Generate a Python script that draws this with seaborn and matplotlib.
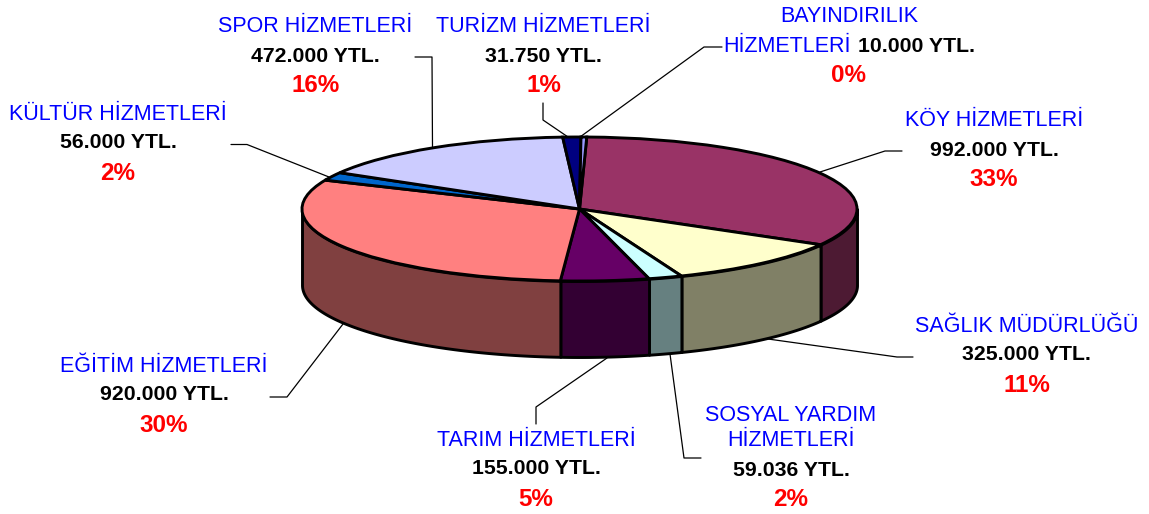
import numpy as np
import seaborn as sns
from matplotlib import pyplot as plt
from matplotlib import transforms as mtransforms

# data, clockwise from the top of the pie
names = ["KÖY HİZMETLERİ", "SAĞLIK MÜDÜRLÜĞÜ", "SOSYAL YARDIM\nHİZMETLERİ", "TARIM HİZMETLERİ",
         "EĞİTİM HİZMETLERİ", "KÜLTÜR HİZMETLERİ", "SPOR HİZMETLERİ", "TURİZM HİZMETLERİ"]
values = [992000, 325000, 59036, 155000, 920000, 56000, 472000, 31750, 10000]
amounts = ["992.000 YTL.", "325.000 YTL.", "59.036 YTL.", "155.000 YTL.",
           "920.000 YTL.", "56.000 YTL.", "472.000 YTL.", "31.750 YTL."]
percents = ["33%", "11%", "2%", "5%", "30%", "2%", "16%", "1%", "0%"]
colours = ["#993366", "#FFFFCC", "#CCFFFF", "#660066", "#FF8080", "#0066CC", "#CCCCFF", "#000080", "#9999FF"]

W, H = 1149, 514
# pie geometry in pixels
cx, cy, rx, ry, depth = 579.5, 209, 277.5, 72, 76
turn = 1.5  # degrees clockwise from straight up

# label centres in pixels: name, amount, percent (x, y)
name_pos = [(994, 121), (1027, 326), (791, 428), (536, 441), (164, 367), (118, 115), (315, 27), (543, 27)]
amount_pos = [(994, 150), (1026, 355), (791, 470), (536, 469), (164, 395), (118, 143), (315, 56), (543, 56)]
percent_pos = [(994, 179), (1027, 385), (791, 499), (536, 500), (164, 425), (118, 173), (316, 86), (544, 86), (849, 76)]

# leader lines in pixels
leaders = [
    [(902, 151), (885, 151), (820, 172)],
    [(913, 357), (897, 357), (768, 339)],
    [(701, 458), (684, 458), (670, 354)],
    [(536, 424), (536, 407), (607, 358)],
    [(270, 397), (287, 397), (343, 324)],
    [(231, 144.5), (247, 144.5), (329, 177)],
    [(415, 57), (432, 57), (432.5, 147)],
    [(543, 103), (543, 120), (568, 137)],
    [(722, 47), (704, 47), (580, 137)],
]

sns.set_theme(style="white")
plt.rcParams['font.family'] = ['Liberation Sans', 'DejaVu Sans']

fig = plt.figure(figsize=(W / 100, H / 100), dpi=100)
ax = fig.add_axes([0, 0, 1, 1])

edge = 2.1
palette = sns.color_palette(colours)

# top of the pie, squashed afterwards by giving up the equal aspect
ax.pie(values, colors=palette, startangle=90 - turn, counterclock=False,
       wedgeprops={"edgecolor": "black", "linewidth": edge, "zorder": 3})
ax.set_aspect("auto")
ax.set_xlim(-cx / rx, (W - cx) / rx)
ax.set_ylim((cy - H) / ry, cy / ry)
ax.set_axis_off()

# side wall, only the front half of each slice is visible
edges = np.radians(turn) + 2 * np.pi * np.concatenate([[0], np.cumsum(values)]) / np.sum(values)
for i in range(len(values)):
    start = max(edges[i], np.pi / 2)
    stop = min(edges[i + 1], 3 * np.pi / 2)
    if stop <= start:
        continue
    t = np.linspace(start, stop, 80)
    ax.fill_between(np.sin(t), np.cos(t), np.cos(t) - depth / ry,
                    color=np.array(palette[i]) * 0.5, edgecolor="black", linewidth=edge, zorder=2)

# everything else is placed in pixels
px = mtransforms.Affine2D().scale(1 / W, -1 / H).translate(0, 1) + fig.transFigure

for line in leaders:
    xs, ys = zip(*line)
    ax.plot(xs, ys, color="black", linewidth=0.9, transform=px, zorder=1, clip_on=False)

blue, red = "#0000FF", "#FF0000"
name_size, amount_size, pct_size = 15.5, 15.3, 17.4

for i in range(len(names)):
    ax.text(*name_pos[i], names[i], color=blue, fontsize=name_size, ha="center", va="center",
            transform=px, linespacing=1.24)
    ax.text(*amount_pos[i], amounts[i], color="black", fontsize=amount_size, fontweight="bold",
            ha="center", va="center", transform=px)
for i in range(len(percents)):
    ax.text(*percent_pos[i], percents[i], color=red, fontsize=pct_size, fontweight="bold",
            ha="center", va="center", transform=px)

# the last label runs name and amount on one line
ax.text(849, 16, "BAYINDIRILIK", color=blue, fontsize=name_size, ha="center", va="center", transform=px)
ax.text(787, 46, "HİZMETLERİ", color=blue, fontsize=name_size, ha="center", va="center", transform=px)
ax.text(916, 46, "10.000 YTL.", color="black", fontsize=amount_size, fontweight="bold",
        ha="center", va="center", transform=px)

fig.savefig("out.png", dpi=100, facecolor="white")
